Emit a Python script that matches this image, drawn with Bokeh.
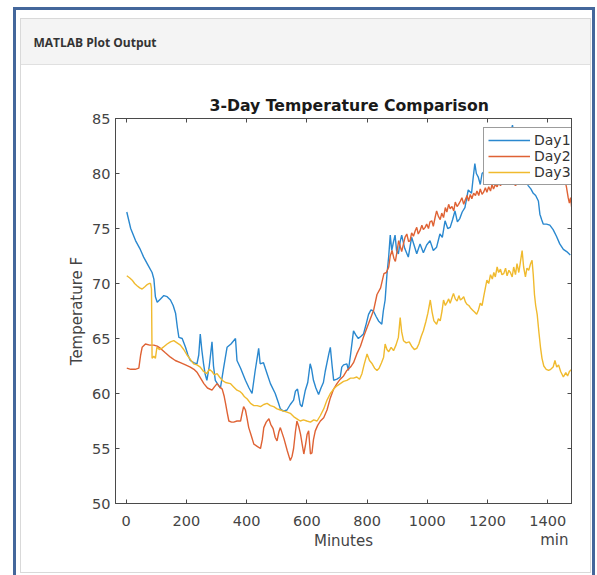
from bokeh.plotting import figure
from bokeh.models import (Range1d, FixedTicker, LinearAxis, Legend, LegendItem,
                          Label, Title, InlineStyleSheet)
from bokeh.embed import file_html
from bokeh.resources import INLINE

# ---------------- data ----------------
day1_min = [2, 15, 31, 45, 58, 72, 86, 92, 97, 103, 114, 125, 136, 147, 156, 164, 170, 175,
            186, 197, 205, 213, 224, 235, 241, 246, 251, 257, 262, 268, 276, 285, 290, 296,
            305, 313, 324, 335, 348, 363, 368, 380, 396, 408, 418, 428, 440, 445, 456, 468,
            479, 495, 505, 512, 522, 534, 545, 556, 562, 569, 578, 584, 595, 603, 611, 616,
            622, 630, 639, 647, 655, 661, 667, 673, 678, 684, 689, 700, 711, 716, 722, 733,
            738, 745, 755, 763, 771, 780, 788, 796, 805, 813, 821, 830, 838, 849, 854, 860,
            866, 872, 877, 882, 888, 893, 898, 904, 910, 915, 925, 937, 948, 956, 965, 976,
            987, 998, 1009, 1020, 1031, 1042, 1050, 1059, 1068, 1076, 1084, 1092, 1100, 1108,
            1116, 1125, 1136, 1147, 1152, 1158, 1163, 1169, 1176, 1182, 1190, 1200, 1210, 1220,
            1230, 1240, 1250, 1260, 1270, 1278, 1283, 1290, 1300, 1310, 1320, 1328, 1335, 1344,
            1352, 1360, 1369, 1374, 1380, 1385, 1396, 1407, 1418, 1429, 1440, 1452, 1463, 1475]
day1_temp = [76.5, 75.0, 73.9, 73.2, 72.4, 71.7, 71.0, 70.4, 68.8, 68.3, 68.6, 68.9, 68.8, 68.5,
             68.0, 67.3, 66.0, 65.1, 65.0, 64.2, 63.5, 63.0, 62.8, 62.7, 63.5, 65.4, 64.0, 62.7,
             61.8, 61.2, 62.5, 64.7, 62.5, 61.2, 60.8, 60.5, 62.4, 64.2, 64.5, 65.0, 63.0, 62.3,
             61.2, 60.5, 60.0, 62.0, 64.1, 62.7, 62.8, 61.8, 60.9, 60.0, 59.2, 58.6, 58.4, 58.5,
             59.0, 59.4, 60.2, 60.4, 59.0, 58.8, 60.3, 61.0, 62.7, 62.2, 61.2, 60.5, 59.9, 60.5,
             61.0, 62.0, 62.8, 63.6, 64.2, 62.5, 61.2, 61.3, 61.5, 62.4, 62.6, 62.7, 62.1, 63.5,
             65.7, 65.3, 65.0, 65.2, 65.4, 66.2, 67.2, 67.6, 67.5, 67.0, 66.6, 66.3, 67.5, 68.5,
             70.8, 72.5, 74.4, 73.0, 73.8, 74.4, 73.0, 72.7, 73.8, 74.4, 73.2, 72.4, 74.2, 73.5,
             72.7, 73.6, 72.8, 73.5, 73.9, 73.0, 73.3, 74.5, 74.2, 75.7, 75.0, 75.1, 75.8, 76.6,
             75.6, 75.9, 76.5, 76.9, 78.5, 78.2, 79.5, 80.9, 80.0, 79.7, 79.0, 80.0, 80.2, 80.8,
             81.2, 80.6, 81.3, 81.8, 82.3, 82.6, 83.2, 83.8, 84.4, 83.0, 81.8, 80.7, 79.8, 79.4,
             78.9, 78.6, 78.2, 78.0, 77.5, 76.3, 75.8, 75.4, 75.4, 75.3, 74.9, 74.3, 73.6, 73.1,
             72.9, 72.6]

day2_min = [2, 15, 30, 42, 48, 53, 64, 78, 92, 103, 114, 130, 147, 163, 180, 197, 213, 225, 236,
            247, 258, 270, 285, 293, 302, 310, 319, 325, 330, 336, 341, 350, 357, 368, 380, 385,
            390, 396, 401, 407, 415, 424, 435, 446, 452, 457, 465, 474, 480, 488, 495, 501, 507,
            512, 518, 524, 535, 545, 551, 556, 562, 567, 573, 579, 585, 590, 596, 601, 606, 612,
            617, 622, 628, 636, 645, 656, 667, 678, 689, 700, 711, 722, 733, 745, 755, 766, 778,
            789, 800, 811, 822, 833, 845, 850, 856, 864, 872, 877, 883, 889, 894, 900, 905, 910,
            915, 921, 926, 932, 938, 943, 948, 954, 960, 965, 970, 976, 982, 987, 993, 998, 1004,
            1009, 1015, 1020, 1026, 1031, 1037, 1043, 1048, 1054, 1060, 1065, 1071, 1076, 1082,
            1088, 1093, 1099, 1104, 1110, 1115, 1121, 1126, 1132, 1137, 1143, 1148, 1154, 1160,
            1165, 1171, 1176, 1182, 1187, 1193, 1198, 1204, 1210, 1215, 1220, 1226, 1232, 1238,
            1243, 1248, 1260, 1275, 1293, 1310, 1330, 1350, 1370, 1390, 1410, 1430, 1445, 1455,
            1462, 1468, 1472, 1476, 1480]
day2_temp = [62.3, 62.2, 62.2, 62.3, 63.5, 64.2, 64.5, 64.4, 64.4, 64.3, 64.1, 63.7, 63.3, 63.0,
             62.8, 62.6, 62.4, 62.2, 61.9, 61.4, 60.9, 60.5, 60.3, 60.6, 60.9, 60.6, 60.4, 59.8,
             59.1, 58.2, 57.5, 57.4, 57.4, 57.5, 57.5, 58.2, 58.8, 58.5, 57.8, 56.9, 56.2, 55.4,
             55.2, 55.0, 55.8, 56.9, 57.4, 57.7, 57.2, 56.8, 56.0, 55.7, 56.5, 56.9, 56.4, 55.9,
             54.8, 53.9, 54.3, 55.0, 56.5, 57.5, 57.0, 56.3, 55.3, 54.5, 55.4, 56.3, 56.6, 54.5,
             54.6, 55.8, 56.6, 57.1, 57.5, 57.8, 58.5, 59.6, 60.4, 60.9, 61.3, 61.6, 62.1, 62.4,
             62.8, 63.6, 64.3, 65.2, 66.0, 66.8, 67.6, 69.0, 69.6, 70.2, 70.9, 71.0, 71.5, 72.5,
             73.0, 72.3, 72.0, 73.0, 73.9, 73.4, 72.9, 73.6, 74.2, 74.5, 73.8, 73.9, 74.6, 74.3,
             74.8, 75.1, 74.5, 74.8, 75.3, 74.9, 75.1, 75.4, 75.0, 75.6, 75.7, 75.2, 76.0, 76.6,
             76.1, 75.8, 76.4, 76.0, 76.9, 76.5, 77.2, 76.8, 77.0, 76.6, 77.4, 77.0, 77.2, 77.5,
             77.8, 77.2, 77.6, 78.0, 77.5, 78.1, 77.7, 78.2, 78.0, 78.4, 78.0, 78.6, 78.1, 78.3,
             78.7, 78.3, 78.8, 78.4, 79.0, 78.6, 79.0, 78.8, 79.2, 78.9, 79.1, 79.3, 79.5, 78.9,
             79.5, 80.0, 80.4, 80.2, 80.6, 80.8, 80.5, 80.2, 79.6, 78.8, 77.8, 77.3, 77.8, 76.8]

day3_min = [2, 12, 20, 28, 36, 45, 53, 62, 70, 76, 81, 84, 86, 92, 97, 102, 110, 118, 127, 136,
            147, 158, 169, 180, 191, 202, 213, 224, 235, 246, 257, 268, 276, 285, 293, 302, 310,
            319, 330, 346, 357, 368, 377, 385, 393, 402, 413, 424, 435, 446, 457, 468, 479, 490,
            501, 512, 523, 534, 545, 556, 567, 578, 589, 600, 612, 623, 634, 645, 656, 667, 678,
            689, 700, 711, 722, 733, 745, 755, 766, 775, 783, 790, 800, 808, 817, 825, 833, 840,
            848, 855, 860, 866, 872, 880, 888, 896, 904, 910, 915, 921, 930, 940, 948, 957, 965,
            972, 980, 987, 995, 1002, 1010, 1016, 1022, 1031, 1037, 1043, 1049, 1054, 1060, 1066,
            1071, 1076, 1082, 1087, 1093, 1099, 1105, 1110, 1115, 1121, 1127, 1132, 1138, 1143,
            1150, 1157, 1164, 1170, 1176, 1182, 1188, 1193, 1198, 1204, 1210, 1216, 1221, 1226,
            1232, 1237, 1243, 1248, 1254, 1260, 1265, 1271, 1276, 1282, 1287, 1293, 1298, 1304,
            1309, 1315, 1320, 1326, 1331, 1337, 1343, 1348, 1352, 1356, 1360, 1365, 1371, 1376,
            1381, 1387, 1395, 1403, 1410, 1418, 1424, 1430, 1436, 1443, 1452, 1460, 1466, 1472,
            1480]
day3_temp = [70.7, 70.5, 70.3, 70.0, 69.8, 69.6, 69.5, 69.7, 69.9, 70.0, 70.0, 69.5, 63.2, 63.4,
             63.2, 64.2, 64.0, 64.1, 64.3, 64.5, 64.7, 64.8, 64.6, 64.4, 64.0, 63.5, 63.1, 62.7,
             62.6, 62.4, 62.0, 61.8, 62.2, 62.0, 61.7, 61.8, 61.5, 61.2, 61.0, 60.9, 60.6, 60.3,
             60.2, 60.0, 59.7, 59.5, 59.1, 58.9, 58.9, 58.8, 59.0, 59.1, 58.9, 58.8, 58.6, 58.5,
             58.4, 58.3, 58.2, 57.9, 57.7, 57.5, 57.6, 57.5, 57.4, 57.6, 57.5, 58.0, 58.6, 59.4,
             60.0, 60.4, 60.7, 60.9, 61.1, 61.2, 61.4, 61.4, 61.5, 61.3, 61.8, 62.6, 63.6, 63.0,
             62.7, 62.3, 62.1, 62.3, 62.8, 63.3, 64.5, 64.0, 63.8, 64.2, 63.9, 64.4, 65.1, 66.9,
             65.6, 64.8, 64.6, 64.7, 64.3, 64.0, 64.1, 64.5, 65.2, 65.7, 66.5, 67.3, 68.5, 67.4,
             66.6, 66.3, 66.8, 66.6, 67.5, 68.5, 68.0, 68.3, 68.6, 68.2, 68.7, 69.1, 68.6, 68.4,
             68.9, 68.5, 68.6, 68.8, 68.3, 68.1, 68.0, 67.8, 67.6, 67.4, 67.2, 67.6, 68.2, 68.0,
             68.9, 69.6, 70.3, 70.0, 70.8, 70.4, 71.0, 70.6, 71.5, 71.0, 71.3, 70.8, 70.9, 71.4,
             70.7, 71.2, 71.0, 70.6, 71.5, 70.8, 71.8, 71.0, 71.9, 73.0, 71.5, 70.6, 71.4, 71.2,
             71.8, 72.1, 70.8, 69.0, 68.0, 67.2, 65.5, 64.2, 63.2, 62.5, 62.2, 62.1, 62.2, 62.4,
             63.0, 62.4, 62.6, 62.0, 61.5, 61.9, 61.6, 62.0, 62.2]

series_names = ["Day1", "Day2", "Day3"]
series_colors = ["#2a88cf", "#df6234", "#f0ba2e"]
x_ticks = [0, 200, 400, 600, 800, 1000, 1200, 1400]
y_ticks = [50, 55, 60, 65, 70, 75, 80, 85]

FONT = "DejaVu Sans"
AX = "#4a4a4a"
TXT = "#444444"
W, H = 597, 575

p = figure(width=W, height=H, output_backend="svg", toolbar_location=None, title=None,
           x_range=Range1d(-35.5, 1479), y_range=Range1d(50, 85),
           min_border_left=115, min_border_right=26, min_border_top=118,
           min_border_bottom=72, background_fill_color="white",
           border_fill_color="white", outline_line_color=AX, outline_line_width=1)

p.xgrid.visible = False
p.ygrid.visible = False

# outer blue frame and light panel outline of the page (drawn with CSS)
p.stylesheets = [InlineStyleSheet(css="""
:host { position: relative; }
:host::before { content: ""; position: absolute; left: 20px; top: 18px; width: 571px;
  height: 555px; box-sizing: border-box; border: 1px solid #d9d9d9;
  pointer-events: none; z-index: 10; }
:host::after { content: ""; position: absolute; left: 13px; top: 7px; width: 582px;
  height: 568px; box-sizing: border-box; border: 3px solid #44679b; border-bottom: none;
  pointer-events: none; z-index: 11; }
""")]


def style_axis(ax, ticks, labels=True):
    ax.ticker = FixedTicker(ticks=ticks)
    ax.axis_line_color = AX
    ax.axis_line_width = 1
    ax.major_tick_line_color = AX
    ax.major_tick_in = 4
    ax.major_tick_out = 0
    ax.minor_tick_line_color = None
    ax.major_label_text_font = FONT
    ax.major_label_text_font_size = "14.5px"
    ax.major_label_text_color = TXT if labels else None
    ax.axis_label_text_font = FONT
    ax.axis_label_text_font_size = "15px"
    ax.axis_label_text_font_style = "normal"
    ax.axis_label_text_color = TXT


xa = p.xaxis[0]
ya = p.yaxis[0]
style_axis(xa, x_ticks)
style_axis(ya, y_ticks)
xa.axis_label = "Minutes"
ya.axis_label = "Temperature F"
xa.major_label_standoff = 12
ya.major_label_standoff = 5
xa.axis_label_standoff = 3
ya.axis_label_standoff = 3

top_ax = LinearAxis()
right_ax = LinearAxis()
style_axis(top_ax, x_ticks, labels=False)
style_axis(right_ax, y_ticks, labels=False)
p.add_layout(top_ax, "above")
p.add_layout(right_ax, "right")

# chart title (next to the frame)
p.add_layout(Title(text="3-Day Temperature Comparison", align="left", offset=94,
                   text_font=FONT, text_font_size="15.7px", text_font_style="bold",
                   text_color="#1a1a1a", standoff=8), "above")

# lines
xs = [day1_min, day2_min, day3_min]
ys = [day1_temp, day2_temp, day3_temp]
items = []
for name, col, x, y in zip(series_names, series_colors, xs, ys):
    r = p.line(x, y, line_color=col, line_width=1.4)
    items.append(LegendItem(label=name, renderers=[r]))

legend = Legend(items=items, location=(368, 318), orientation="vertical")
legend.label_text_font = FONT
legend.label_text_font_size = "14px"
legend.label_text_color = "#333333"
legend.glyph_width = 42
legend.glyph_height = 14
legend.label_height = 14
legend.label_standoff = 4
legend.spacing = 0
legend.padding = 4
legend.margin = 0
legend.border_line_color = "#3a3a3a"
legend.border_line_width = 1
legend.background_fill_color = "white"
legend.background_fill_alpha = 1
p.add_layout(legend, "center")

# page header: grey band with its caption (canvas units, in a side panel -> not clipped)
p.add_layout(Label(x=20, y=41, x_units="canvas", y_units="canvas",
                   text="MATLAB Plot Output", text_baseline="middle",
                   text_font="Open Sans", text_font_size="12px",
                   text_font_style="bold", text_color="#333333",
                   padding=(13, 434, 15, 14),
                   background_fill_color="#f4f4f4", border_line_color="#e0e0e0",
                   border_line_width=1), "above")

# unit label of the duration axis
p.add_layout(Label(x=568, y=539, x_units="canvas", y_units="canvas", text="min",
                   text_align="right", text_baseline="middle", text_font=FONT,
                   text_font_size="15px", text_color=TXT), "below")

open("out.html", "w").write(file_html(p, INLINE))
